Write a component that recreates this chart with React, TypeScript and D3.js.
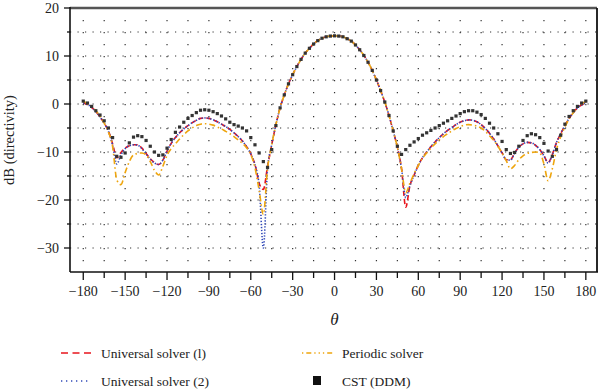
import * as d3 from "d3";

// theta grid, every 3 degrees from -180 to 180
const theta = d3.range(-180, 181, 3);

// Universal solver (1)
const solver1 = [
  0.2, -0.1, -0.7, -1.6, -2.7, -4.0, -5.6, -8.3, -11.2, -10.1,
  -9.2, -8.7, -8.5, -8.5, -9.2, -10.3, -11.4, -12.2, -12.6, -11.7,
  -9.8, -8.2, -7.0, -6.0, -5.2, -4.5, -3.9, -3.4, -3.0, -2.9,
  -3.0, -3.3, -3.7, -4.2, -4.7, -5.3, -6.0, -6.8, -7.7, -8.9,
  -10.4, -12.6, -16.5, -17.8, -13.0,
  -8.5, -4.3, -0.8, 1.9, 4.2, 6.1, 7.8, 9.3, 10.6, 11.6,
  12.5, 13.2, 13.7, 14.0, 14.15, 14.2, 14.15, 14.0, 13.6, 13.1,
  12.3, 11.3, 10.1, 8.7, 7.0, 5.0, 2.8, 0.4, -2.4, -5.6, -9.0,
  -13.5, -21.5, -17.0, -14.8, -12.8, -11.2, -10.0, -8.9, -7.9, -7.0,
  -6.2, -5.5, -4.9, -4.3, -3.8, -3.5, -3.3, -3.4, -3.7, -4.3,
  -5.1, -6.1, -7.3, -8.7, -10.2, -11.6, -11.6, -10.2, -9.0, -8.3,
  -8.0, -8.1, -8.6, -9.5, -10.8, -12.2, -10.5, -8.0, -6.2, -4.5,
  -3.0, -1.8, -0.8, -0.2, 0.2,
];

// Universal solver (2)
const solver2 = [
  0.2, -0.1, -0.7, -1.6, -2.7, -4.0, -5.7, -8.5, -12.5, -10.6,
  -9.3, -8.7, -8.5, -8.6, -9.3, -10.4, -11.5, -12.3, -12.6, -11.7,
  -9.8, -8.2, -7.0, -6.0, -5.2, -4.5, -3.9, -3.4, -3.0, -2.9,
  -3.0, -3.3, -3.7, -4.2, -4.7, -5.3, -6.0, -6.8, -7.7, -8.9,
  -10.4, -12.7, -17.0, -30.0, -13.5,
  -8.5, -4.3, -0.8, 1.9, 4.2, 6.1, 7.8, 9.3, 10.6, 11.6,
  12.5, 13.2, 13.7, 14.0, 14.15, 14.2, 14.15, 14.0, 13.6, 13.1,
  12.3, 11.3, 10.1, 8.7, 7.0, 5.0, 2.8, 0.4, -2.4, -5.6, -9.0,
  -13.5, -19.5, -17.0, -14.8, -12.8, -11.2, -10.0, -8.9, -7.9, -7.0,
  -6.2, -5.5, -4.9, -4.3, -3.8, -3.5, -3.3, -3.4, -3.7, -4.3,
  -5.1, -6.1, -7.3, -8.7, -10.2, -11.6, -11.7, -10.3, -9.0, -8.3,
  -8.0, -8.1, -8.6, -9.5, -10.8, -12.3, -10.6, -8.0, -6.2, -4.5,
  -3.0, -1.8, -0.8, -0.2, 0.2,
];

// Periodic solver
const periodic = [
  0.5, 0.1, -0.5, -1.4, -2.5, -4.0, -5.8, -8.8, -15.8, -16.8,
  -14.3, -12.0, -10.6, -10.3, -10.2, -10.6, -12.0, -13.8, -14.8, -13.0,
  -10.7, -9.3, -8.3, -7.3, -6.4, -5.6, -5.0, -4.5, -4.2, -4.1,
  -4.2, -4.4, -4.8, -5.2, -5.7, -6.2, -6.8, -7.5, -8.2, -9.1,
  -10.5, -13.3, -18.0, -23.0, -13.5,
  -8.5, -4.3, -0.8, 1.9, 4.2, 6.1, 7.8, 9.3, 10.6, 11.6,
  12.5, 13.2, 13.7, 14.0, 14.15, 14.2, 14.15, 14.0, 13.6, 13.1,
  12.3, 11.3, 10.1, 8.7, 7.0, 5.0, 2.8, 0.4, -2.4, -5.6, -9.0,
  -13.5, -18.5, -16.5, -14.5, -12.8, -11.3, -10.2, -9.2, -8.3, -7.5,
  -6.8, -6.2, -5.6, -5.1, -4.7, -4.4, -4.3, -4.4, -4.6, -5.0,
  -5.7, -6.6, -7.6, -8.8, -10.2, -11.8, -13.5, -12.8, -11.6, -10.8,
  -10.3, -10.1, -10.0, -10.2, -12.5, -16.0, -13.5, -9.5, -6.8, -4.8,
  -3.1, -1.8, -0.6, 0.1, 0.5,
];

// CST (DDM)
const cst = [
  0.6, 0.2, -0.5, -1.4, -2.3, -3.5, -5.0, -7.0, -10.9, -11.1,
  -10.2, -8.1, -6.9, -6.6, -6.8, -7.6, -8.8, -10.0, -10.7, -10.6,
  -9.2, -7.4, -5.9, -4.8, -3.8, -3.0, -2.4, -1.8, -1.3, -1.2,
  -1.3, -1.6, -2.0, -2.5, -3.1, -3.8, -4.3, -4.6, -5.0, -5.6,
  -7.0, -8.5, -10.2, -12.0, -13.2,
  -9.5, -4.5, -0.8, 1.9, 4.2, 6.1, 7.8, 9.3, 10.6, 11.6,
  12.5, 13.2, 13.7, 14.0, 14.15, 14.2, 14.15, 14.0, 13.6, 13.1,
  12.3, 11.3, 10.1, 8.7, 7.0, 5.0, 2.8, 0.4, -2.4, -5.6, -8.8,
  -10.5, -9.5, -8.6, -7.9, -7.2, -6.5, -6.0, -5.5, -5.0, -4.5,
  -4.0, -3.5, -3.0, -2.5, -2.0, -1.6, -1.4, -1.4, -1.7, -2.2,
  -3.0, -4.0, -5.0, -6.2, -7.8, -9.5, -10.3, -10.1, -8.8, -7.6,
  -6.6, -6.2, -6.4, -7.0, -8.2, -9.8, -10.9, -9.5, -6.5, -4.2,
  -2.6, -1.4, -0.5, 0.2, 0.6,
];

const xTicks = [-180, -150, -120, -90, -60, -30, 0, 30, 60, 90, 120, 150, 180];
const xMinor = d3.range(-165, 180, 30);
const yTicks = [-30, -20, -10, 0, 10, 20];
const yMinor = [-25, -15, -5, 5, 15];
const hGrid = d3.range(-30, 16, 5);
const vGrid = d3.range(-180, 181, 15);

const font = "Liberation Serif, DejaVu Serif, serif";

export default function App() {
  const left = 70, right = 597, top = 8, bottom = 272;
  const x = d3.scaleLinear().domain([-189.5, 188]).range([left, right]);
  const y = d3.scaleLinear().domain([-35, 20]).range([bottom, top]);
  const fmt = (v: number) => (v < 0 ? "\u2212" + Math.abs(v) : String(v));

  const line = (vals: number[]) =>
    d3
      .line<number>()
      .x((_, i) => x(theta[i]))
      .y((d) => y(d))
      .curve(d3.curveMonotoneX)(vals) as string;

  const sq = 3.2;
  const txt = { fontFamily: font };

  return (
    <svg
      width={600}
      height={392}
      style={{ position: "absolute", left: 0, top: 0, background: "#fff", fontFamily: font }}
    >
      {/* dotted grid */}
      {hGrid.map((v) => (
        <line key={"h" + v} x1={left} x2={right} y1={y(v)} y2={y(v)}
          stroke="#333" strokeWidth={1.1} strokeDasharray="1.2,6.3" />
      ))}
      {vGrid.map((v) => (
        <line key={"v" + v} x1={x(v)} x2={x(v)} y1={top + 12} y2={bottom}
          stroke="#333" strokeWidth={1.2} strokeDasharray="1.2,10.8" />
      ))}

      {/* series */}
      <path d={line(solver1)} fill="none" stroke="#e8141c" strokeWidth={1.6} strokeDasharray="5,3" />
      <path d={line(solver2)} fill="none" stroke="#3048b8" strokeWidth={1.6} strokeDasharray="1.3,1.7" />
      <path d={line(periodic)} fill="none" stroke="#eea50e" strokeWidth={1.6} strokeDasharray="6,3,1.5,3" />
      {cst.map((v, i) => (
        <rect key={"c" + i} x={x(theta[i]) - sq / 2} y={y(v) - sq / 2} width={sq} height={sq} fill="#333" />
      ))}

      {/* frame */}
      <line x1={left} x2={right} y1={top} y2={top} stroke="#555" strokeWidth={2.5} />
      <line x1={right} x2={right} y1={top} y2={bottom} stroke="#111" strokeWidth={1.8} />
      <line x1={left} x2={left} y1={top - 1} y2={bottom} stroke="#111" strokeWidth={1.6} />
      <line x1={left} x2={right + 1} y1={bottom} y2={bottom} stroke="#111" strokeWidth={1.6} />

      {/* y axis */}
      {yTicks.map((v) => (
        <g key={"yt" + v}>
          <line x1={left - 6} x2={left} y1={y(v)} y2={y(v)} stroke="#111" strokeWidth={1.3} />
          <text x={left - 11} y={y(v)} dy="0.35em" textAnchor="end" fontSize={14} fill="#222" style={txt}>{fmt(v)}</text>
        </g>
      ))}
      {yMinor.map((v) => (
        <line key={"ym" + v} x1={left - 3} x2={left} y1={y(v)} y2={y(v)} stroke="#111" strokeWidth={1.3} />
      ))}

      {/* x axis */}
      {xTicks.map((v) => (
        <g key={"xt" + v}>
          <line x1={x(v)} x2={x(v)} y1={bottom} y2={bottom + 8} stroke="#111" strokeWidth={1.3} />
          <text x={x(v)} y={296} textAnchor="middle" fontSize={14} fill="#222" style={txt}>{fmt(v)}</text>
        </g>
      ))}
      {xMinor.map((v) => (
        <line key={"xm" + v} x1={x(v)} x2={x(v)} y1={bottom} y2={bottom + 6} stroke="#111" strokeWidth={1.3} />
      ))}

      <text transform={`translate(14,${(top + bottom) / 2}) rotate(-90)`} textAnchor="middle" fontSize={14.5} fill="#222" style={txt}>
        dB (directivity)
      </text>
      <text x={x(0)} y={325} textAnchor="middle" fontSize={17} fontStyle="italic" fill="#222" style={txt}>θ</text>

      {/* legend */}
      <line x1={61} x2={91} y1={353} y2={353} stroke="#e8141c" strokeWidth={1.6} strokeDasharray="7,4.5" />
      <text x={101} y={353} dy="0.35em" fontSize={13.5} fill="#222" style={txt}>Universal solver (l)</text>
      <line x1={61} x2={91} y1={381} y2={381} stroke="#3048b8" strokeWidth={1.4} strokeDasharray="1.3,3.7" />
      <text x={101} y={381} dy="0.35em" fontSize={13.5} fill="#222" style={txt}>Universal solver (2)</text>
      <line x1={302} x2={333} y1={353} y2={353} stroke="#eea50e" strokeWidth={1.6} strokeDasharray="1.3,3,5,3,1.3,3,1.3,3" />
      <text x={342} y={353} dy="0.35em" fontSize={13.5} fill="#222" style={txt}>Periodic solver</text>
      <rect x={313} y={376} width={8} height={9} fill="#111" />
      <text x={342} y={381} dy="0.35em" fontSize={13.5} fill="#222" style={txt}>CST (DDM)</text>
    </svg>
  );
}
